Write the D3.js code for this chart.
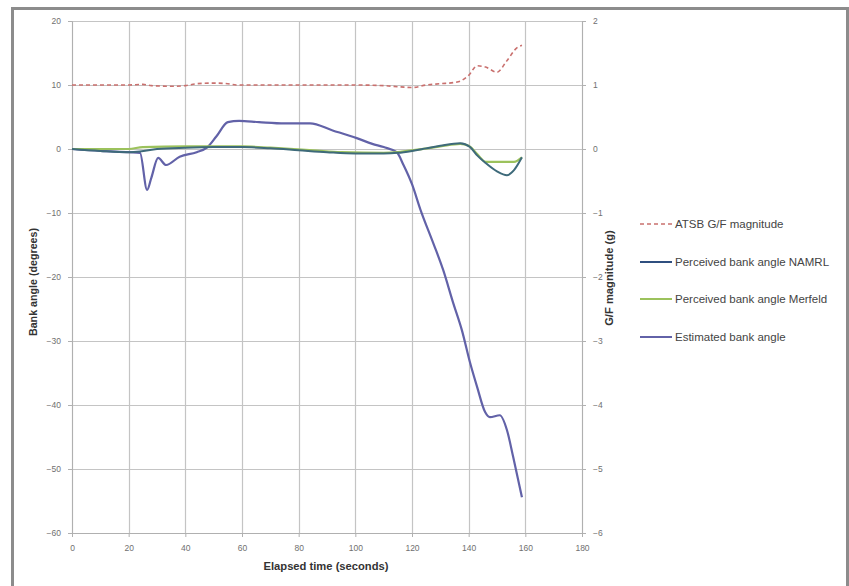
<!DOCTYPE html>
<html>
<head>
<meta charset="utf-8">
<script src="https://cdn.jsdelivr.net/npm/d3@7/dist/d3.min.js"></script>
<style>
  body { margin: 0; background: #fff; }
  text { font-family: "Liberation Sans", Arial, sans-serif; }
</style>
</head>
<body>
<div id="chart"></div>
<script>
// elapsed time (s) / values
const estTime = [0, 10, 20, 24, 26.5, 28, 30.4, 33.2, 38, 44, 47.6, 51, 55, 59, 66, 75, 84, 92, 100.5, 106, 110, 114.6, 117, 120, 123, 127.5, 131, 134.5, 137.6, 140.5, 143, 145.8, 147.5, 151, 153.5, 155.7, 158.8];
const estAngle = [0, -0.3, -0.5, -0.6, -6.4, -4.5, -1.4, -2.5, -1.2, -0.5, 0.2, 2.0, 4.2, 4.4, 4.2, 4.0, 4.0, 2.9, 1.7, 0.8, 0.3, -0.5, -2.5, -5.5, -9.5, -14.7, -18.9, -24, -28.3, -33.4, -37.2, -41.1, -41.9, -41.6, -43.9, -48.1, -54.4];

const namrlTime = [0, 10, 20, 24, 30, 40, 50, 60, 70, 80, 90, 100, 110, 115, 120, 125, 130, 137, 140.5, 143, 146, 150, 153.5, 156, 158.8];
const namrlAngle = [0, -0.3, -0.5, -0.4, 0, 0.2, 0.3, 0.3, 0.1, -0.2, -0.5, -0.7, -0.7, -0.6, -0.3, 0.1, 0.5, 0.9, 0.3, -1.0, -2.2, -3.5, -4.1, -3.3, -1.3];

const merfeldTime = [0, 20, 25, 40, 60, 70, 85, 95, 110, 115, 122, 130, 137, 140, 143, 146, 156, 158.8];
const merfeldAngle = [0, 0, 0.3, 0.4, 0.4, 0.2, -0.2, -0.5, -0.6, -0.5, -0.1, 0.4, 0.8, 0.5, -0.8, -2.0, -2.0, -1.3];

const gfTime = [0, 20, 25, 28, 35, 40, 44, 50, 55, 58, 80, 100, 110, 116, 120, 125, 130, 135, 137, 140, 143, 146, 150, 153.5, 157, 158.8];
const gfMag = [1.0, 1.0, 1.01, 0.99, 0.98, 0.99, 1.02, 1.03, 1.02, 1.0, 1.0, 1.0, 0.99, 0.97, 0.96, 1.0, 1.02, 1.04, 1.06, 1.15, 1.3, 1.28, 1.2, 1.38, 1.58, 1.62];

const xTicks = [0, 20, 40, 60, 80, 100, 120, 140, 160, 180];
const leftTicks = [20, 10, 0, -10, -20, -30, -40, -50, -60];
const rightTicks = [2, 1, 0, -1, -2, -3, -4, -5, -6];

const legendNames = ["ATSB G/F magnitude", "Perceived bank angle NAMRL", "Perceived bank angle  Merfeld", "Estimated bank angle"];

const W = 849, H = 586;
const svg = d3.select("#chart").append("svg").attr("width", W).attr("height", H);

// chart frame
svg.append("path")
  .attr("d", "M12.5,586 L12.5,8.5 L847.5,8.5 L847.5,586")
  .attr("fill", "none").attr("stroke", "#8c8c8c").attr("stroke-width", 3);

const x = d3.scaleLinear().domain([0, 180]).range([72, 582]);
const yL = d3.scaleLinear().domain([-60, 20]).range([533, 21]);
const yR = d3.scaleLinear().domain([-6, 2]).range([533, 21]);

// grid
svg.append("g").selectAll("line").data(xTicks).enter().append("line")
  .attr("x1", d => Math.round(x(d)) + .5).attr("x2", d => Math.round(x(d)) + .5)
  .attr("y1", yL(20)).attr("y2", yL(-60))
  .attr("stroke", "#c4c4c4").attr("stroke-width", 1.2);
svg.append("g").selectAll("line").data(leftTicks).enter().append("line")
  .attr("x1", x(0)).attr("x2", x(180))
  .attr("y1", d => Math.round(yL(d)) + .5).attr("y2", d => Math.round(yL(d)) + .5)
  .attr("stroke", "#c4c4c4").attr("stroke-width", 1.2);

// axes
const axisStyle = g => {
  g.select(".domain").attr("stroke", "#b0b0b0");
  g.selectAll(".tick line").attr("stroke", "#b0b0b0");
  g.selectAll("text").attr("fill", "#707070").style("font-size", "8.5px");
};
svg.append("g").attr("transform", `translate(0,${yL(-60)})`)
  .call(d3.axisBottom(x).tickValues(xTicks).tickSize(4).tickPadding(8))
  .call(axisStyle);
svg.append("g").attr("transform", `translate(${x(0)},0)`)
  .call(d3.axisLeft(yL).tickValues(leftTicks).tickSize(4).tickPadding(7))
  .call(axisStyle);
svg.append("g").attr("transform", `translate(${x(180)},0)`)
  .call(d3.axisRight(yR).tickValues(rightTicks).tickFormat(d3.format("d")).tickSize(4).tickPadding(7))
  .call(axisStyle);

// axis titles
svg.append("text").attr("transform", "translate(37,282) rotate(-90)")
  .attr("text-anchor", "middle").style("font-size", "10.7px").style("font-weight", "bold")
  .attr("fill", "#333").text("Bank angle (degrees)");
svg.append("text").attr("transform", "translate(613,278) rotate(-90)")
  .attr("text-anchor", "middle").style("font-size", "11.2px").style("font-weight", "bold")
  .attr("fill", "#333").text("G/F magnitude (g)");
svg.append("text").attr("x", 326).attr("y", 570)
  .attr("text-anchor", "middle").style("font-size", "11.2px").style("font-weight", "bold")
  .attr("fill", "#333").text("Elapsed time (seconds)");

// series
const mk = (t, v) => t.map((d, i) => ({ t: d, v: v[i] }));
const lineL = d3.line().x(d => x(d.t)).y(d => yL(d.v)).curve(d3.curveMonotoneX);
const lineR = d3.line().x(d => x(d.t)).y(d => yR(d.v)).curve(d3.curveMonotoneX);

const series = [
  { data: mk(estTime, estAngle), line: lineL, color: "#6262a8", width: 2.2, dash: null },
  { data: mk(merfeldTime, merfeldAngle), line: lineL, color: "#9cc25c", width: 2.2, dash: null },
  { data: mk(namrlTime, namrlAngle), line: lineL, color: "#3e6a7a", width: 2, dash: null },
  { data: mk(gfTime, gfMag), line: lineR, color: "#c9706e", width: 1.6, dash: "4,3" }
];
series.forEach(s => {
  svg.append("path").datum(s.data)
    .attr("d", s.line)
    .attr("fill", "none")
    .attr("stroke", s.color)
    .attr("stroke-width", s.width)
    .attr("stroke-dasharray", s.dash);
});

// legend
const legColors = ["#c9706e", "#2f4f7f", "#9cc25c", "#6262a8"];
const legY = [224, 262, 299, 337];
const leg = svg.append("g");
legendNames.forEach((n, i) => {
  leg.append("line").attr("x1", 640).attr("x2", 672).attr("y1", legY[i]).attr("y2", legY[i])
    .attr("stroke", legColors[i]).attr("stroke-width", i == 0 ? 1.6 : 2)
    .attr("stroke-dasharray", i == 0 ? "4,3" : null);
  leg.append("text").attr("x", 675).attr("y", legY[i] + 4)
    .style("font-size", "11.5px").attr("fill", "#444").text(n);
});
</script>
</body>
</html>
